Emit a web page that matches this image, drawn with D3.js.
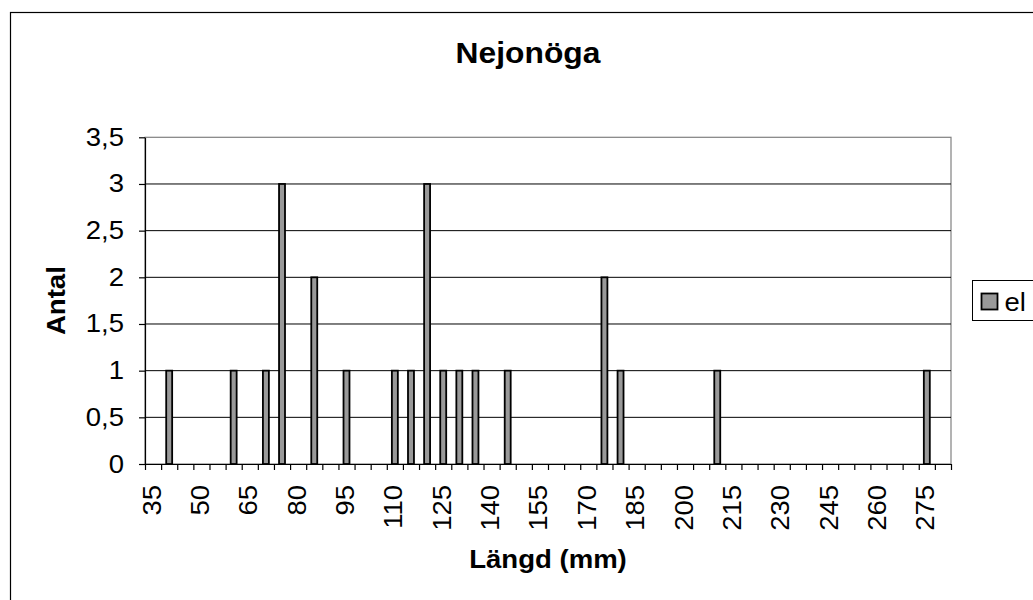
<!DOCTYPE html>
<html>
<head>
<meta charset="utf-8">
<script src="https://cdn.jsdelivr.net/npm/d3@7"></script>
<style>
	body { margin: 0; background: #fff; }
	svg { display: block; font-family: "Liberation Sans", Arial, sans-serif; }
</style>
</head>
<body>
<svg id="chart" width="1033" height="600"></svg>
<script>

// chart data
var categories = [35, 40, 45, 50, 55, 60, 65, 70, 75, 80,
	85, 90, 95, 100, 105, 110, 115, 120, 125, 130,
	135, 140, 145, 150, 155, 160, 165, 170, 175, 180,
	185, 190, 195, 200, 205, 210, 215, 220, 225, 230,
	235, 240, 245, 250, 255, 260, 265, 270, 275, 280];

var counts = [0, 1, 0, 0, 0, 1, 0, 1, 3, 0,
	2, 0, 1, 0, 0, 1, 1, 3, 1, 1,
	1, 0, 1, 0, 0, 0, 0, 0, 2, 1,
	0, 0, 0, 0, 0, 1, 0, 0, 0, 0,
	0, 0, 0, 0, 0, 0, 0, 0, 1, 0];

var xLabels = [35, 50, 65, 80, 95, 110, 125, 140, 155, 170, 185, 200, 215, 230, 245, 260, 275];
var yTicks = [0, 0.5, 1, 1.5, 2, 2.5, 3, 3.5];

var seriesName = "el";
var TITLE = "Nejonöga";
var X_TITLE = "Längd (mm)";
var Y_TITLE = "Antal";

var PLOT = { left: 145, right: 951, top: 137.3, bottom: 464 };
var BAR_FILL = "#999999";
var STRETCH = 1.1;	// the original text is a little wider than plain Arial

function main() {

	var svg = d3.select("#chart");

	// outer chart frame (runs off the right and bottom edge)
	svg.append("rect")
		.attr("x", 10.5)
		.attr("y", 12.5)
		.attr("width", 1060)
		.attr("height", 620)
		.attr("fill", "#fff")
		.attr("stroke", "#000")
		.attr("stroke-width", 1.2);

	var pad = 0.63;
	var x = d3.scaleBand()
		.domain(categories)
		.range([PLOT.left, PLOT.right])
		.paddingInner(pad)
		.paddingOuter(pad / 2);

	// category boundaries, used for the tick marks
	var xEdge = d3.scaleLinear()
		.domain([0, categories.length])
		.range([PLOT.left, PLOT.right]);

	var y = d3.scaleLinear()
		.domain([0, 3.5])
		.range([PLOT.bottom, PLOT.top]);

	var fmt = function(v) { return String(v).replace(".", ","); };

	// plot area border
	svg.append("rect")
		.attr("x", PLOT.left)
		.attr("y", y(3.5))
		.attr("width", PLOT.right - PLOT.left)
		.attr("height", y(0) - y(3.5))
		.attr("fill", "none")
		.attr("stroke", "#808080")
		.attr("stroke-width", 1.2);

	// gridlines
	svg.append("g")
		.selectAll("line")
		.data(yTicks.filter(function(v) { return v > 0 && v < 3.5; }))
		.join("line")
		.attr("x1", PLOT.left)
		.attr("x2", PLOT.right)
		.attr("y1", function(d) { return y(d); })
		.attr("y2", function(d) { return y(d); })
		.attr("stroke", "#000")
		.attr("stroke-width", 1);

	// bars
	var data = categories.map(function(c, i) { return { cat: c, value: counts[i] }; })
		.filter(function(d) { return d.value > 0; });

	svg.append("g")
		.selectAll("rect")
		.data(data)
		.join("rect")
		.attr("x", function(d) { return x(d.cat); })
		.attr("y", function(d) { return y(d.value); })
		.attr("width", x.bandwidth())
		.attr("height", function(d) { return y(0) - y(d.value); })
		.attr("fill", BAR_FILL)
		.attr("stroke", "#000")
		.attr("stroke-width", 1.8);

	// y axis, labels drawn separately so they can be stretched
	var yAxis = svg.append("g")
		.attr("transform", "translate(" + PLOT.left + ",0)")
		.call(d3.axisLeft(y)
			.tickValues(yTicks)
			.tickFormat("")
			.tickSizeInner(6)
			.tickSizeOuter(0));

	yAxis.selectAll("line, path").attr("stroke", "#000").attr("stroke-width", 1.2);

	svg.append("g")
		.selectAll("text")
		.data(yTicks)
		.join("text")
		.attr("transform", function(d) {
			return "translate(" + (PLOT.left - 21) + "," + y(d) + ") scale(" + STRETCH + ",1)";
		})
		.attr("text-anchor", "end")
		.attr("dy", "0.34em")
		.attr("font-size", 25)
		.attr("fill", "#000")
		.text(fmt);

	// x axis: ticks at the category boundaries
	var xAxis = svg.append("g")
		.attr("transform", "translate(0," + PLOT.bottom + ")")
		.call(d3.axisBottom(xEdge)
			.ticks(categories.length)
			.tickFormat("")
			.tickSizeInner(6)
			.tickSizeOuter(0));

	xAxis.selectAll("line, path").attr("stroke", "#000").attr("stroke-width", 1.2);

	// rotated category labels
	svg.append("g")
		.selectAll("text")
		.data(xLabels)
		.join("text")
		.attr("transform", function(d) {
			return "translate(" + (x(d) + x.bandwidth() / 2) + "," + (PLOT.bottom + 21) + ") rotate(-90) scale(" + STRETCH + ",1)";
		})
		.attr("text-anchor", "end")
		.attr("dy", "0.3em")
		.attr("font-size", 25)
		.attr("fill", "#000")
		.text(function(d) { return d; });

	// titles
	svg.append("text")
		.attr("transform", "translate(528,63) scale(1.06,1)")
		.attr("text-anchor", "middle")
		.attr("font-size", 30)
		.attr("font-weight", "bold")
		.text(TITLE);

	svg.append("text")
		.attr("transform", "translate(" + ((PLOT.left + PLOT.right) / 2) + ",568) scale(1.04,1)")
		.attr("text-anchor", "middle")
		.attr("font-size", 26.5)
		.attr("font-weight", "bold")
		.text(X_TITLE);

	svg.append("text")
		.attr("transform", "translate(64.5," + ((PLOT.top + PLOT.bottom) / 2) + ") rotate(-90) scale(1.04,1)")
		.attr("text-anchor", "middle")
		.attr("font-size", 26.5)
		.attr("font-weight", "bold")
		.text(Y_TITLE);

	// legend
	var legend = svg.append("g").attr("transform", "translate(972.5,280.5)");

	legend.append("rect")
		.attr("width", 100)
		.attr("height", 40)
		.attr("fill", "#fff")
		.attr("stroke", "#000")
		.attr("stroke-width", 1);

	legend.append("rect")
		.attr("x", 9)
		.attr("y", 13)
		.attr("width", 16)
		.attr("height", 16)
		.attr("fill", BAR_FILL)
		.attr("stroke", "#000")
		.attr("stroke-width", 1.8);

	legend.append("text")
		.attr("transform", "translate(32,30) scale(" + STRETCH + ",1)")
		.attr("font-size", 25)
		.text(seriesName);
}

main();

</script>
</body>
</html>
